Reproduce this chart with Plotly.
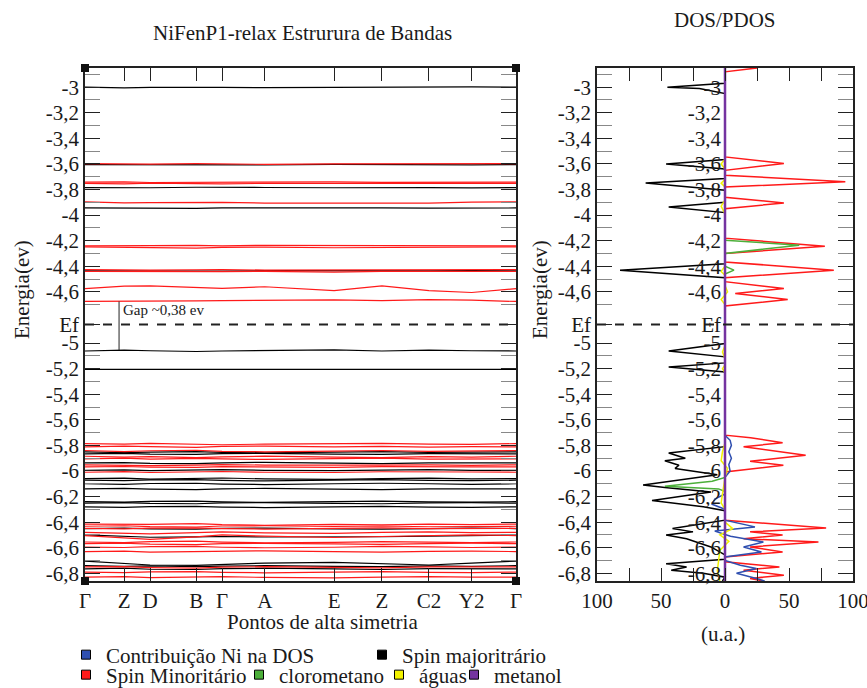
import plotly.graph_objects as go

# ---------------- data ----------------
# high-symmetry path (normalised distance along the k-path)
K_POS = [0.0, 0.091, 0.151, 0.258, 0.318, 0.417, 0.578, 0.689, 0.798, 0.897, 1.0]
K_LABELS = ["Γ", "Z", "D", "B", "Γ", "A", "E", "Z", "C2", "Y2", "Γ"]

EF = -4.855            # Fermi level (eV)
GAP = 0.38             # band gap (eV)
GAP_BOTTOM = -5.055    # top of the occupied manifold at the gap marker
GAP_K = 0.079          # k position of the gap marker

# spin-minority bands (energy at each high-symmetry point)
BANDS_MIN = [
    [-3.598, -3.600, -3.602, -3.598, -3.600, -3.603, -3.600, -3.598, -3.601, -3.600, -3.598],
    [-3.742, -3.740, -3.745, -3.743, -3.744, -3.742, -3.740, -3.744, -3.742, -3.741, -3.742],
    [-3.752, -3.755, -3.750, -3.753, -3.756, -3.752, -3.751, -3.755, -3.750, -3.754, -3.752],
    [-3.897, -3.905, -3.903, -3.898, -3.900, -3.906, -3.905, -3.907, -3.906, -3.898, -3.897],
    [-4.240, -4.242, -4.238, -4.236, -4.240, -4.236, -4.238, -4.235, -4.238, -4.240, -4.240],
    [-4.248, -4.252, -4.255, -4.258, -4.252, -4.250, -4.255, -4.252, -4.250, -4.248, -4.248],
    [-4.425, -4.428, -4.430, -4.427, -4.425, -4.430, -4.428, -4.432, -4.430, -4.428, -4.425],
    [-4.440, -4.442, -4.438, -4.445, -4.442, -4.440, -4.445, -4.440, -4.438, -4.442, -4.440],
    [-4.575, -4.555, -4.553, -4.565, -4.572, -4.560, -4.590, -4.553, -4.590, -4.605, -4.575],
    [-4.675, -4.675, -4.672, -4.670, -4.668, -4.665, -4.662, -4.668, -4.660, -4.665, -4.675],
    [-5.786, -5.790, -5.784, -5.792, -5.795, -5.790, -5.786, -5.784, -5.790, -5.792, -5.786],
    [-5.812, -5.806, -5.810, -5.815, -5.808, -5.805, -5.812, -5.808, -5.814, -5.810, -5.812],
    [-5.840, -5.848, -5.842, -5.838, -5.846, -5.850, -5.845, -5.840, -5.846, -5.842, -5.840],
    [-5.885, -5.892, -5.888, -5.895, -5.890, -5.884, -5.892, -5.896, -5.888, -5.892, -5.885],
    [-5.905, -5.900, -5.908, -5.902, -5.906, -5.910, -5.904, -5.900, -5.908, -5.904, -5.905],
    [-5.952, -5.955, -5.958, -5.955, -5.950, -5.954, -5.958, -5.955, -5.952, -5.956, -5.952],
    [-5.968, -5.965, -5.970, -5.972, -5.966, -5.968, -5.972, -5.966, -5.970, -5.968, -5.968],
    [-6.010, -6.005, -6.012, -6.008, -6.004, -6.010, -6.012, -6.006, -6.010, -6.008, -6.010],
    [-6.415, -6.420, -6.418, -6.412, -6.420, -6.425, -6.418, -6.422, -6.416, -6.420, -6.415],
    [-6.432, -6.428, -6.435, -6.438, -6.430, -6.428, -6.434, -6.430, -6.436, -6.432, -6.432],
    [-6.448, -6.452, -6.446, -6.444, -6.450, -6.454, -6.448, -6.445, -6.450, -6.448, -6.448],
    [-6.480, -6.486, -6.492, -6.482, -6.476, -6.484, -6.488, -6.480, -6.476, -6.482, -6.480],
    [-6.505, -6.520, -6.535, -6.515, -6.500, -6.510, -6.520, -6.512, -6.505, -6.500, -6.505],
    [-6.555, -6.560, -6.552, -6.548, -6.556, -6.562, -6.558, -6.552, -6.556, -6.560, -6.555],
    [-6.568, -6.565, -6.572, -6.575, -6.568, -6.566, -6.570, -6.574, -6.568, -6.565, -6.568],
    [-6.595, -6.598, -6.592, -6.590, -6.596, -6.600, -6.596, -6.590, -6.594, -6.598, -6.595],
    [-6.630, -6.626, -6.634, -6.632, -6.628, -6.624, -6.630, -6.634, -6.628, -6.626, -6.630],
    [-6.750, -6.748, -6.755, -6.760, -6.752, -6.748, -6.754, -6.758, -6.750, -6.748, -6.750],
    [-6.790, -6.794, -6.788, -6.786, -6.792, -6.796, -6.790, -6.786, -6.792, -6.794, -6.790],
    [-6.830, -6.826, -6.834, -6.830, -6.826, -6.832, -6.835, -6.830, -6.826, -6.830, -6.830],
]

# spin-majority bands
BANDS_MAJ = [
    [-3.000, -3.005, -3.002, -3.000, -3.002, -3.003, -3.000, -3.002, -3.000, -2.998, -3.000],
    [-3.605, -3.606, -3.604, -3.607, -3.605, -3.608, -3.604, -3.606, -3.605, -3.607, -3.605],
    [-3.785, -3.788, -3.786, -3.782, -3.785, -3.784, -3.786, -3.784, -3.785, -3.787, -3.785],
    [-3.944, -3.946, -3.943, -3.947, -3.944, -3.943, -3.945, -3.944, -3.946, -3.944, -3.944],
    [-4.435, -4.437, -4.433, -4.436, -4.438, -4.434, -4.436, -4.440, -4.436, -4.434, -4.435],
    [-5.062, -5.055, -5.060, -5.066, -5.062, -5.058, -5.054, -5.062, -5.055, -5.060, -5.062],
    [-5.205, -5.205, -5.204, -5.206, -5.205, -5.208, -5.205, -5.208, -5.205, -5.204, -5.205],
    [-5.850, -5.856, -5.852, -5.848, -5.855, -5.858, -5.852, -5.848, -5.855, -5.852, -5.850],
    [-5.866, -5.862, -5.868, -5.870, -5.864, -5.862, -5.868, -5.870, -5.864, -5.866, -5.866],
    [-5.937, -5.934, -5.940, -5.942, -5.936, -5.932, -5.938, -5.942, -5.936, -5.934, -5.937],
    [-5.995, -5.992, -5.998, -5.996, -5.990, -5.995, -5.998, -5.994, -5.990, -5.996, -5.995],
    [-6.060, -6.056, -6.064, -6.060, -6.055, -6.062, -6.066, -6.060, -6.056, -6.062, -6.060],
    [-6.072, -6.075, -6.070, -6.068, -6.074, -6.078, -6.072, -6.068, -6.074, -6.076, -6.072],
    [-6.100, -6.104, -6.098, -6.096, -6.102, -6.106, -6.100, -6.096, -6.100, -6.104, -6.100],
    [-6.140, -6.136, -6.142, -6.146, -6.140, -6.136, -6.142, -6.146, -6.140, -6.138, -6.140],
    [-6.240, -6.244, -6.238, -6.236, -6.242, -6.246, -6.240, -6.236, -6.242, -6.244, -6.240],
    [-6.252, -6.248, -6.254, -6.256, -6.250, -6.248, -6.254, -6.256, -6.250, -6.248, -6.252],
    [-6.280, -6.284, -6.278, -6.276, -6.282, -6.286, -6.280, -6.276, -6.282, -6.284, -6.280],
    [-6.450, -6.446, -6.452, -6.455, -6.448, -6.446, -6.452, -6.455, -6.450, -6.446, -6.450],
    [-6.500, -6.510, -6.518, -6.515, -6.512, -6.516, -6.518, -6.514, -6.510, -6.505, -6.500],
    [-6.705, -6.725, -6.735, -6.738, -6.730, -6.720, -6.715, -6.725, -6.735, -6.720, -6.705],
    [-6.740, -6.745, -6.742, -6.748, -6.744, -6.740, -6.746, -6.748, -6.742, -6.745, -6.740],
    [-6.765, -6.760, -6.768, -6.770, -6.764, -6.760, -6.766, -6.770, -6.764, -6.762, -6.765],
]

# DOS / PDOS (u.a.); majority spin plotted to the left (negative)
DOS_MAJ_E = [-2.85, -2.97, -3.00, -3.01, -3.05, -3.55, -3.565, -3.60, -3.64, -3.70, -3.714,
             -3.748, -3.805, -3.88, -3.90, -3.936, -3.98, -4.36, -4.38, -4.43, -4.49, -5.0,
             -5.004, -5.062, -5.108, -5.15, -5.155, -5.187, -5.226, -5.80, -5.81, -5.86,
             -5.90, -5.92, -5.955, -5.98, -6.03, -6.11, -6.13, -6.165, -6.23, -6.28, -6.31,
             -6.385, -6.45, -6.476, -6.50, -6.53, -6.594, -6.656, -6.69, -6.725, -6.75,
             -6.776, -6.80, -6.83, -6.86]
DOS_MAJ_V = [0, 0, -45, -20, 0, 0, 0, -46, 0, 0, 0,
             -62, 0, 0, 0, -44, 0, 0, 0, -82, 0, 0,
             0, -44, 0, 0, 0, -44, 0, 0, 0, -44,
             -31, -47, -36, -39, -6, -64, -47, -11, -57, -17, 0,
             0, -41, -25, -46, -30, -11, 0, 0, -46, -30,
             -42, -17, 0, -2]

DOS_MIN_E = [-2.85, -2.88, -3.545, -3.597, -3.65, -3.688, -3.74, -3.78, -3.86, -3.905, -3.95,
             -4.18, -4.243, -4.30, -4.366, -4.43, -4.49, -4.52, -4.574, -4.613, -4.66, -4.71,
             -5.72, -5.74, -5.78, -5.81, -5.877, -5.924, -5.955, -6.007, -6.385, -6.445,
             -6.476, -6.50, -6.53, -6.555, -6.594, -6.633, -6.672, -6.71, -6.75, -6.776,
             -6.815, -6.84, -6.86]
DOS_MIN_V = [25, 0, 0, 46, 0, 0, 94, 0, 0, 46, 0,
             0, 78, 0, 0, 85, 0, 0, 46, 8, 49, 0,
             0, 20, 45, 14.5, 63, 19.6, 45.6, 0, 0, 79,
             19.6, 45, 14.5, 73, 19.6, 45, 0, 0, 42.5, 14.5,
             46, 19.6, 30]

CLOROMETANO_E = [-4.196, -4.235, -4.30, -4.40, -4.43, -4.46, -6.05, -6.08, -6.12, -6.14, -6.16]
CLOROMETANO_V = [0, 58, 0, 0, 7, 0, 0, -10, -47, -5, 0]

AGUAS_E = [-3.56, -3.60, -3.64, -3.72, -3.75, -3.78, -3.88, -3.93, -3.99, -4.40, -4.44, -4.47,
           -4.55, -4.60, -4.66, -4.70, -5.02, -5.07, -5.12, -5.17, -5.20, -5.23, -5.78, -5.85,
           -5.92, -5.98, -6.05, -6.20, -6.25, -6.30, -6.40, -6.45, -6.50, -6.55, -6.62, -6.70,
           -6.78, -6.86]
AGUAS_V = [0, -3, 0, 0, -3, 0, 0, -3, 0, 0, -3, 0,
           0, 2, -3, 0, 0, -2, 0, 0, -2, 0, 0, -2,
           -3, 2, 0, -2, -3, 0, 0, 6, -4, 3, -4, -5,
           -6, -4]

NI_E = [-5.72, -5.76, -5.80, -5.85, -5.90, -5.95, -6.00, -6.05, -6.18, -6.22, -6.26, -6.30,
        -6.385, -6.437, -6.47, -6.51, -6.555, -6.594, -6.633, -6.672, -6.70, -6.737, -6.763,
        -6.80, -6.84, -6.86]
NI_V = [0, 4, 5, 3, 5, 3, 4, 0, 0, -8, -10, 0,
        0, 23.4, -8, 4.3, 30, 14.5, 28.5, 0, 0, 12, 24.5,
        9, 24.5, 31]

METANOL_E = [-2.80, -6.90]
METANOL_V = [0, 0]

E_RANGE = [-6.86, -2.85]
E_MAJOR = [-3.0, -3.2, -3.4, -3.6, -3.8, -4.0, -4.2, -4.4, -4.6, EF,
           -5.0, -5.2, -5.4, -5.6, -5.8, -6.0, -6.2, -6.4, -6.6, -6.8]
E_MAJOR_TEXT = ["-3", "-3,2", "-3,4", "-3,6", "-3,8", "-4", "-4,2", "-4,4", "-4,6", "Ef",
                "-5", "-5,2", "-5,4", "-5,6", "-5,8", "-6", "-6,2", "-6,4", "-6,6", "-6,8"]
E_MINOR = [-2.9, -3.1, -3.3, -3.5, -3.7, -3.9, -4.1, -4.3, -4.5, -4.7,
           -5.1, -5.3, -5.5, -5.7, -5.9, -6.1, -6.3, -6.5, -6.7]

DOS_TICKS = [-100, -50, 0, 50, 100]
DOS_TICK_TEXT = ["100", "50", "0", "50", "100"]
DOS_MINOR = [-75, -25, 25, 75]

# ---------------- styling ----------------
W, H = 867, 688
FONT = "Liberation Serif, Times New Roman, serif"
TXT = "#1a1a1a"
RED = "#ff1a1a"
BLUE = "#2f4fb0"
GREEN = "#4caf3a"
YELLOW = "#f2f200"
PURPLE = "#7433a0"

LEFT_DOM = [85 / W, 516 / W]
RIGHT_DOM = [597 / W, 853 / W]
Y_DOM = [1 - 581 / H, 1 - 68 / H]


def joined(bands):
    xs, ys = [], []
    for b in bands:
        xs += K_POS + [None]
        ys += b + [None]
    return xs, ys


fig = go.Figure()

# band structure
xr, yr = joined(BANDS_MIN)
xb, yb = joined(BANDS_MAJ)
fig.add_trace(go.Scatter(x=xb, y=yb, mode="lines", line=dict(color="black", width=1.2),
                         showlegend=False, hoverinfo="skip", xaxis="x", yaxis="y"))
fig.add_trace(go.Scatter(x=xr, y=yr, mode="lines", line=dict(color=RED, width=1.2),
                         showlegend=False, hoverinfo="skip", xaxis="x", yaxis="y"))

# DOS / PDOS
for e, v, c, w, ya in [(DOS_MAJ_E, DOS_MAJ_V, "black", 1.5, "y2"),
                       (DOS_MIN_E, DOS_MIN_V, RED, 1.5, "y2"),
                       (CLOROMETANO_E, CLOROMETANO_V, GREEN, 1.5, "y2"),
                       (NI_E, NI_V, BLUE, 1.5, "y2"),
                       (AGUAS_E, AGUAS_V, YELLOW, 1.5, "y2"),
                       (METANOL_E, METANOL_V, PURPLE, 2.5, "y3")]:
    fig.add_trace(go.Scatter(x=v, y=e, mode="lines", line=dict(color=c, width=w),
                             showlegend=False, hoverinfo="skip", xaxis="x2", yaxis=ya))

# legend entries (square swatches)
LEGEND_ROWS = [
    ("legend", [("Contribuição Ni na DOS", BLUE, 251), ("Spin majoritrário", "black", 0)]),
    ("legend2", [("Spin Minoritário", RED, 128), ("clorometano", GREEN, 95),
                 ("águas", YELLOW, 30), ("metanol", PURPLE, 0)]),
]
for lg, items in LEGEND_ROWS:
    for name, col, lw in items:
        kw = dict(legendwidth=lw) if lw else {}
        fig.add_trace(go.Scatter(x=[None], y=[None], mode="markers", name=name, legend=lg,
                                 marker=dict(symbol="square", size=9, color=col,
                                             line=dict(color="black", width=1)),
                                 xaxis="x", yaxis="y", **kw))

axis_font = dict(family=FONT, size=21, color=TXT)
common_y = dict(range=E_RANGE, tickmode="array", tickvals=E_MAJOR, ticktext=E_MAJOR_TEXT,
                ticks="inside", ticklen=15, tickwidth=1.2, tickcolor="#222",
                minor=dict(tickmode="array", tickvals=E_MINOR, ticks="inside", ticklen=15,
                           tickcolor="#888", tickwidth=1.2),
                showline=True, linecolor="#222", linewidth=1.5, mirror="ticks",
                showgrid=False, zeroline=False, tickfont=axis_font, automargin=False)

fig.update_layout(
    width=W, height=H, margin=dict(l=0, r=0, t=0, b=0, autoexpand=False),
    paper_bgcolor="white", plot_bgcolor="white",
    font=dict(family=FONT, size=21, color=TXT),
    xaxis=dict(domain=LEFT_DOM, range=[0, 1], tickmode="array", tickvals=K_POS,
               ticktext=K_LABELS, ticks="inside", ticklen=13, tickwidth=1.2, tickcolor="#222",
               showline=True, linecolor="#222", linewidth=1.5, mirror="ticks",
               showgrid=False, zeroline=False, tickfont=axis_font, anchor="y", automargin=False,
               ticklabeloverflow="allow"),
    yaxis=dict(domain=Y_DOM, anchor="x", **common_y),
    xaxis2=dict(domain=RIGHT_DOM, range=[-100, 100], tickmode="array", tickvals=DOS_TICKS,
                ticktext=DOS_TICK_TEXT, ticks="inside", ticklen=13, tickwidth=1.2,
                tickcolor="#222",
                minor=dict(tickmode="array", tickvals=DOS_MINOR, ticks="inside", ticklen=13,
                           tickcolor="#222", tickwidth=1.2),
                showline=True, linecolor="#222", linewidth=1.5, mirror="ticks",
                showgrid=False, zeroline=False, tickfont=axis_font, anchor="y2",
                automargin=False, ticklabeloverflow="allow"),
    yaxis2=dict(domain=Y_DOM, anchor="x2", **common_y),
    yaxis3=dict(range=E_RANGE, tickmode="array", tickvals=E_MAJOR, ticktext=E_MAJOR_TEXT,
                overlaying="y2", anchor="free", side="left",
                position=RIGHT_DOM[0] + (RIGHT_DOM[1] - RIGHT_DOM[0]) * 0.5,
                showline=False, ticks="", showgrid=False, zeroline=False,
                tickfont=axis_font, automargin=False, ticklabelstandoff=4),
    legend=dict(orientation="h", x=66 / W, xanchor="left", y=1 - 655 / H, yanchor="middle",
                font=dict(family=FONT, size=21, color=TXT), bgcolor="rgba(0,0,0,0)",
                itemclick=False, tracegroupgap=0),
    legend2=dict(orientation="h", x=66 / W, xanchor="left", y=1 - 675 / H, yanchor="middle",
                 font=dict(family=FONT, size=21, color=TXT), bgcolor="rgba(0,0,0,0)",
                 itemclick=False, tracegroupgap=0),
)

# Fermi level, gap marker and panel corner handles
shapes = [
    dict(type="line", xref="x domain", yref="y", x0=0, x1=1, y0=EF, y1=EF,
         line=dict(color="#222", width=2, dash="dash")),
    dict(type="line", xref="x2 domain", yref="y2", x0=0, x1=1, y0=EF, y1=EF,
         line=dict(color="#222", width=2, dash="dash")),
    dict(type="line", xref="x", yref="y", x0=GAP_K, x1=GAP_K, y0=GAP_BOTTOM,
         y1=GAP_BOTTOM + GAP, line=dict(color="#222", width=1)),
]
for cx in (0, 1):
    for cy in (0, 1):
        shapes.append(dict(type="rect", xref="x domain", yref="y domain",
                           xsizemode="pixel", ysizemode="pixel", xanchor=cx, yanchor=cy,
                           x0=-4, x1=4, y0=-4, y1=4, fillcolor="#111", line=dict(width=0)))
fig.update_layout(shapes=shapes)

centered = dict(xref="paper", yref="paper", showarrow=False, xanchor="center",
                yanchor="middle", font=dict(size=21))
annotations = [
    dict(text="NiFenP1-relax Estrurura de Bandas", x=302 / W, y=1 - 33 / H, **centered),
    dict(text="DOS/PDOS", x=725 / W, y=1 - 20 / H, **centered),
    dict(text="Pontos de alta simetria", x=322 / W, y=1 - 622 / H, **centered),
    dict(text="(u.a.)", x=723 / W, y=1 - 634 / H, **centered),
    dict(text="Energia(ev)", x=22 / W, y=1 - 290 / H, textangle=-90, **centered),
    dict(text="Energia(ev)", x=540 / W, y=1 - 290 / H, textangle=-90, **centered),
    dict(text="Gap ~0,38 ev", x=GAP_K + 0.005, y=-4.745, xref="x", yref="y",
         xanchor="left", yanchor="middle", showarrow=False, font=dict(size=15)),
]
fig.update_layout(annotations=annotations)

fig.write_html("out.html")
